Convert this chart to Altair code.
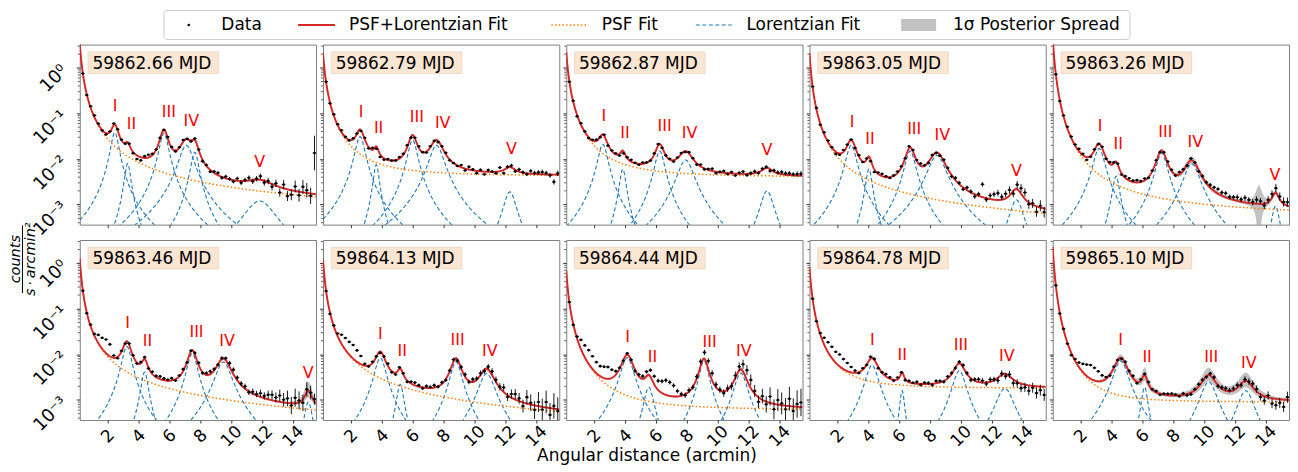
import numpy as np
import pandas as pd
import altair as alt

alt.data_transformers.disable_max_rows()

# ---------------- values ----------------
MJD_LABELS = ["59862.66 MJD", "59862.79 MJD", "59862.87 MJD", "59863.05 MJD", "59863.26 MJD",
              "59863.46 MJD", "59864.13 MJD", "59864.44 MJD", "59864.78 MJD", "59865.10 MJD"]

# PSF fit: a * r^-p + b / r + c
PSF_A = [0.09, 0.067, 0.07, 0.037, 0.06, 0.0247, 0.025, 0.017, 0.02, 0.025]
PSF_P = [2.25, 2.15, 2.15, 2.5, 2.7, 2.42, 2.4, 2.3, 2.3, 2.8]
PSF_B = [0.017, 0.0, 0.0, 0.0093, 0.005, 0.0088, 0.008, 0.0, 0.0, 0.0]
PSF_C = [0.0002, 0.0042, 0.0040, 0.0, 0.0004, 0.0, 0.0, 0.0006, 0.0018, 0.0009]

# Lorentzian components (centre, amplitude, half width, 1-sigma spread in dex)
COMP_CENTERS = [[2.47, 3.3, 5.65, 7.1, 7.65, 11.85],
                [2.6, 3.65, 6.0, 7.55, 12.3],
                [2.57, 3.86, 6.25, 7.93, 13.2],
                [2.9, 4.05, 6.72, 8.45, 13.6],
                [3.2, 4.3, 7.25, 9.2, 14.63],
                [3.25, 4.4, 7.48, 9.5, 15.0],
                [3.91, 5.2, 8.81, 10.8],
                [4.15, 5.55, 9.12, 11.5],
                [4.25, 6.2, 9.9, 12.85],
                [4.6, 6.15, 10.3, 12.7]]
COMP_AMPS = [[0.038, 0.008, 0.037, 0.02, 0.014, 0.0012],
             [0.031, 0.0075, 0.026, 0.02, 0.0019],
             [0.021, 0.006, 0.015, 0.0095, 0.002],
             [0.02, 0.006, 0.015, 0.012, 0.00127],
             [0.017, 0.0042, 0.0135, 0.0078, 0.00093],
             [0.015, 0.0041, 0.0105, 0.0068, 0.0009],
             [0.0084, 0.0022, 0.0069, 0.0038],
             [0.0085, 0.0019, 0.0072, 0.0039],
             [0.0058, 0.0016, 0.0044, 0.0018],
             [0.0072, 0.0019, 0.0025, 0.0016]]
COMP_WIDTHS = [[0.25, 0.19, 0.28, 0.45, 0.25, 1.0],
               [0.3, 0.18, 0.3, 0.45, 0.39],
               [0.3, 0.2, 0.3, 0.5, 0.4],
               [0.33, 0.2, 0.33, 0.55, 0.42],
               [0.35, 0.22, 0.35, 0.5, 0.25],
               [0.3, 0.22, 0.32, 0.5, 0.25],
               [0.35, 0.22, 0.35, 0.5],
               [0.4, 0.3, 0.3, 0.4],
               [0.4, 0.15, 0.4, 0.55],
               [0.45, 0.2, 0.5, 0.5]]
COMP_SPREADS = [[0.03, 0.03, 0.03, 0.03, 0.03, 0.05],
                [0.03, 0.03, 0.03, 0.03, 0.04],
                [0.03, 0.03, 0.03, 0.03, 0.04],
                [0.03, 0.04, 0.03, 0.03, 0.05],
                [0.03, 0.04, 0.03, 0.1, 0.06],
                [0.03, 0.04, 0.03, 0.04, 0.3],
                [0.04, 0.05, 0.04, 0.05],
                [0.04, 0.05, 0.04, 0.05],
                [0.04, 0.06, 0.04, 0.06],
                [0.08, 0.25, 0.2, 0.25]]

# extra posterior spike (only in the spread band)
SPIKE_PANEL = [4]
SPIKE_CENTER = [13.55]
SPIKE_WIDTH = [0.2]
SPIKE_AMP = [0.0016]

LABEL_TEXT = [["I", "II", "III", "IV", "V"]] * 6 + [["I", "II", "III", "IV"]] * 4
LABEL_X = [[2.48, 3.55, 5.97, 7.42, 11.85],
           [2.66, 3.8, 6.28, 7.95, 12.4],
           [2.64, 4.0, 6.57, 8.18, 13.2],
           [2.96, 4.12, 6.98, 8.8, 13.6],
           [3.26, 4.44, 7.49, 9.43, 14.59],
           [3.29, 4.58, 7.76, 9.74, 15.0],
           [3.91, 5.33, 8.92, 11.0],
           [4.17, 5.78, 9.48, 11.7],
           [4.27, 6.2, 10.0, 12.98],
           [4.59, 6.31, 10.46, 12.9]]

# data bins (arcmin) and residuals of the data from the fit (0.01 dex) and error bars (0.01 dex)
BIN_X = [round(0.4 + 0.25 * k, 2) for k in range(61)]

RESID = [
    [0, -2, 3, 4, 2, -1, -3, 1, 3, 2, 1, -2, 2, -3, -8, -7, 4, 6, 3, 0,
     2, -1, 3, 2, -2, 1, 4, 0, -2, 3, 1, -3, 2, -4, 3, 5, -2, 4, 1, -3,
     5, -4, 2, 6, -3, 2, 8, -4, 3, -6, 5, -12, 8, -15, -10, 10, -8, 12, 6, -5, 90],
    [1, -2, 3, 2, 4, 1, -1, 2, 0, -2, 3, -3, 4, -5, -6, -3, 2, 0, -1, 3,
     2, 4, -2, 1, 3, 0, -2, 2, 1, -3, 2, 3, -2, 0, -1, 5, -4, 6, 2, -5,
     3, -6, 4, 1, -3, 8, -7, 2, 4, -3, 5, 1, -2, 6, 2, 4, 5, 3, -2, -16, 3],
    [-1, 2, -3, 3, 1, -2, 2, 3, -1, 2, -3, 1, 2, -4, -5, 2, 4, 1, -2, 3,
     1, -1, 2, 3, -2, 0, 2, -3, 1, 2, -2, 3, 1, -3, 4, -2, 2, 5, -3, 1,
     4, -2, 3, -4, 2, 5, -3, 1, 4, -2, 3, 2, -4, 3, 2, 5, 3, 4, 2, 3, 4],
    [0, 3, -2, 4, 3, 1, -5, -3, 4, 2, 1, -2, 3, -1, 2, -4, -6, 3, 5, 2,
     -2, 1, 3, 2, -1, 4, 3, 2, 5, 1, -2, 3, -1, -2, 4, 2, -3, 5, 3, -4,
     6, 2, -5, 4, 28, -3, 8, 12, 15, 6, 10, 12, -6, 10, 12, 14, -4, 3, -12, 4, -8],
    [0, -3, 2, 4, 3, 2, 5, 3, -6, -2, 2, -1, 3, -2, 4, 2, 1, -3, 4, 5,
     3, 5, 2, 4, -2, 1, 3, -1, 2, 4, 3, -2, 5, 3, -2, 4, 1, -3, 3, 2,
     6, 8, 10, 7, 9, 4, 6, 8, 5, 10, 7, 3, 9, 6, -4, 5, 8, 10, 6, 4, 8],
    [0, -2, 3, 4, 18, 24, 30, 26, 5, -3, 2, -2, 3, 1, -2, 3, 4, -2, 5, 3,
     6, 4, 2, 5, -3, 2, 4, -2, 1, 3, 5, -2, 4, 6, 3, -1, 2, 4, 8, 10,
     6, 3, 5, -2, 4, 3, 8, 5, 10, 12, 8, 14, 6, 10, -5, 12, 4, -8, 6, 3, 5],
    [0, -3, 2, 6, 20, 26, 28, 30, 25, 18, 4, -2, 3, 1, -3, 2, 5, -2, -4, 3,
     2, -3, 4, 6, 3, -2, 4, 2, 5, -1, 3, -2, 2, 4, -3, 3, 5, -2, 6, 3,
     4, -3, 6, 8, 5, 2, 10, -4, 8, 12, 6, -8, 14, 4, -10, 9, -6, 12, -15, 6, -4],
    [0, -2, 4, 20, 26, 30, 28, 24, 22, 25, 26, 18, 8, 2, -2, 3, 1, -3, 4, 6,
     10, 14, 18, 20, 26, 32, 30, 24, 12, 4, -2, 3, -1, 4, 10, 14, 18, 16, 6, 2,
     -4, 3, -2, 5, 8, 16, 22, 18, 6, -10, 8, -6, 14, -12, 10, 4, -8, 16, -10, 6, 10],
    [0, -2, 3, 15, 22, 25, 24, 26, 22, 18, 12, 5, -2, 3, -1, 4, 2, -3, 1, 5,
     3, -2, 4, 2, -3, 3, 1, 4, -2, 3, 2, -3, 5, 3, -2, 4, 2, -1, 3, 5,
     2, -4, 3, 6, 4, -3, 5, 2, -6, 3, -5, 4, -8, -3, -10, -6, -12, -4, -15, -8, -18],
    [0, -3, 2, -2, -5, 4, 10, 18, 25, 30, 28, 22, 12, 4, -2, 3, 1, -2, 4, 2,
     5, -3, 3, 2, 4, 1, 3, -2, 2, 3, 4, 2, -2, 3, -3, -4, 2, 5, 3, -2,
     4, 6, -2, 3, 5, 2, 4, 6, -3, 3, 2, 8, 5, -6, -10, 4, -12, -14, -8, -16, 6],
]

ERR = [
    [1, 1, 1, 1, 1, 1, 1, 1, 2, 2, 2, 2, 2, 2, 2, 2, 2, 2, 2, 2,
     2, 2, 2, 2, 2, 2, 2, 2, 2, 3, 3, 3, 3, 3, 3, 3, 4, 4, 4, 4,
     4, 5, 5, 5, 6, 6, 6, 7, 7, 8, 8, 9, 10, 11, 12, 13, 14, 15, 16, 18, 38],
    [1, 1, 1, 1, 1, 1, 1, 1, 1, 1, 1, 1, 1, 1, 1, 2, 2, 2, 2, 2,
     2, 2, 2, 2, 2, 2, 2, 2, 2, 2, 2, 2, 2, 2, 2, 2, 3, 3, 3, 3,
     3, 3, 3, 3, 3, 3, 3, 4, 4, 4, 4, 4, 4, 4, 5, 5, 5, 5, 5, 6, 6],
    [1, 1, 1, 1, 1, 1, 1, 1, 1, 1, 1, 1, 1, 1, 1, 2, 2, 2, 2, 2,
     2, 2, 2, 2, 2, 2, 2, 2, 2, 2, 2, 2, 2, 2, 2, 2, 3, 3, 3, 3,
     3, 3, 3, 3, 3, 3, 3, 4, 4, 4, 4, 4, 4, 4, 5, 5, 5, 5, 5, 6, 6],
    [1, 1, 1, 1, 1, 1, 1, 1, 1, 1, 1, 1, 1, 2, 2, 2, 2, 2, 2, 2,
     2, 2, 2, 2, 2, 2, 2, 2, 3, 3, 3, 3, 3, 3, 3, 3, 4, 4, 4, 4,
     4, 5, 5, 5, 5, 6, 6, 6, 7, 7, 7, 8, 8, 8, 9, 9, 10, 10, 11, 12, 12],
    [1, 1, 1, 1, 1, 1, 1, 1, 1, 1, 1, 1, 2, 2, 2, 2, 2, 2, 2, 2,
     2, 2, 2, 2, 2, 2, 2, 2, 2, 2, 3, 3, 3, 3, 3, 3, 3, 3, 4, 4,
     4, 4, 4, 5, 5, 5, 5, 6, 6, 6, 6, 7, 7, 7, 8, 8, 8, 9, 9, 10, 10],
    [1, 1, 1, 1, 1, 1, 1, 2, 2, 2, 2, 2, 2, 2, 2, 3, 3, 3, 3, 3,
     3, 3, 3, 3, 3, 3, 3, 3, 3, 3, 4, 4, 4, 4, 4, 4, 4, 4, 5, 5,
     5, 6, 6, 6, 7, 7, 8, 8, 9, 10, 11, 13, 15, 17, 19, 20, 20, 18, 16, 15, 12],
    [1, 1, 1, 1, 2, 2, 2, 2, 2, 2, 2, 2, 2, 3, 3, 3, 3, 3, 3, 3,
     3, 3, 3, 3, 4, 4, 4, 4, 4, 4, 4, 4, 4, 4, 4, 5, 5, 5, 5, 5,
     6, 6, 6, 7, 7, 8, 8, 9, 10, 11, 12, 14, 16, 18, 20, 22, 24, 25, 26, 28, 30],
    [1, 1, 2, 2, 2, 2, 2, 2, 3, 3, 3, 3, 3, 3, 3, 3, 3, 4, 4, 4,
     4, 4, 4, 5, 5, 5, 5, 5, 5, 5, 6, 6, 6, 6, 6, 6, 6, 7, 7, 7,
     8, 8, 8, 9, 9, 10, 11, 12, 13, 14, 16, 18, 20, 22, 24, 24, 25, 26, 28, 30, 30],
    [1, 1, 1, 2, 2, 2, 2, 2, 2, 2, 2, 2, 2, 2, 3, 3, 3, 3, 3, 3,
     3, 3, 3, 3, 3, 3, 3, 3, 3, 3, 4, 4, 4, 4, 4, 4, 4, 4, 4, 5,
     5, 5, 5, 5, 6, 6, 6, 6, 7, 7, 7, 8, 8, 9, 9, 10, 10, 11, 12, 12, 13],
    [1, 1, 1, 1, 1, 2, 2, 2, 2, 2, 2, 2, 2, 2, 2, 3, 3, 3, 3, 3,
     3, 3, 3, 3, 3, 3, 3, 3, 3, 3, 3, 3, 3, 4, 4, 4, 4, 4, 4, 4,
     4, 5, 5, 5, 5, 5, 6, 6, 6, 7, 7, 7, 8, 8, 9, 9, 10, 10, 11, 11, 12],
]

X_TICKS = [2, 4, 6, 8, 10, 12, 14]
Y_TICKS = [0.001, 0.01, 0.1, 1.0]
Y_MINOR = [m * 10.0 ** e for e in (-4, -3, -2, -1, 0) for m in range(2, 10)]

for arr in RESID + ERR:
    assert len(arr) == len(BIN_X), len(arr)

# ---------------- styles ----------------
RED = "#d62728"
ORANGE = "#ff7f0e"
BLUE = "#1f77b4"
BAND = "#9a9a9a"
BOX_FILL = "#fbe5d3"
BOX_EDGE = "#ead5c0"
X_MIN, X_MAX = 0.2, 15.5
Y_MIN, Y_MAX = 10 ** -3.44, 10 ** 0.51
PW, PH = 237, 180.6
OX, OY = 79.0, 42.7          # page position of the first panel's plot area


def px(v):
    return v - OX


def py(v):
    return v - OY


def sig(a, n=4):
    return np.array([float(f"{v:.{n}g}") for v in np.asarray(a, float)])


# ---------------- build tables ----------------
XG = np.round(np.arange(X_MIN, X_MAX + 1e-9, 0.025), 4)


def psf(i, x):
    return PSF_A[i] * x ** (-PSF_P[i]) + PSF_B[i] / x + PSF_C[i]


def lor(c, a, w, x):
    return a / (1.0 + ((x - c) / w) ** 2)


def model(i, x):
    x = np.asarray(x, float)
    y = psf(i, x)
    for c, a, w in zip(COMP_CENTERS[i], COMP_AMPS[i], COMP_WIDTHS[i]):
        y = y + lor(c, a, w, x)
    return y


curve_parts, comp_parts, pt_parts, lab_rows = [], [], [], []
for i in range(10):
    ps = psf(i, XG)
    fit = model(i, XG)
    lo = ps * 10 ** -0.01
    hi = ps * 10 ** 0.01
    for k, (c, a, w, s) in enumerate(zip(COMP_CENTERS[i], COMP_AMPS[i], COMP_WIDTHS[i], COMP_SPREADS[i])):
        L = lor(c, a, w, XG)
        lo = lo + L * 10 ** (-s)
        hi = hi + L * 10 ** s
        keep = L >= 1.5e-4
        comp_parts.append(pd.DataFrame({"panel": i, "comp": k, "x": XG[keep], "y": sig(L[keep])}))
    for p, sc, sw, sa in zip(SPIKE_PANEL, SPIKE_CENTER, SPIKE_WIDTH, SPIKE_AMP):
        if p == i:
            g = 1.0 / (1.0 + ((XG - sc) / sw) ** 2)
            hi = hi + sa * g
            lo = lo * (1 - 0.97 * g)
    curve_parts.append(pd.DataFrame({"panel": i, "x": XG, "fit": sig(fit), "psf": sig(ps),
                                     "lo": sig(lo), "hi": sig(hi)}))
    bx = np.array(BIN_X)
    yd = model(i, bx) * 10 ** (np.array(RESID[i]) / 100.0)
    e = 10 ** (np.array(ERR[i]) / 100.0)
    pt_parts.append(pd.DataFrame({"panel": i, "x": bx, "y": sig(yd), "ylo": sig(yd / e),
                                  "yhi": sig(yd * e), "xlo": bx - 0.12, "xhi": bx + 0.12}))
    for t, lx in zip(LABEL_TEXT[i], LABEL_X[i]):
        near = XG[np.abs(XG - lx) <= 0.3]
        lab_rows.append({"panel": i, "x": lx, "y": float(model(i, near).max()), "t": t})

CURVES = pd.concat(curve_parts, ignore_index=True)
COMPS = pd.concat(comp_parts, ignore_index=True)
PTS = pd.concat(pt_parts, ignore_index=True)
LABS = pd.DataFrame(lab_rows)
MINOR_DF = pd.DataFrame({"v": [v for v in Y_MINOR if Y_MIN < v < Y_MAX]})
ONE = pd.DataFrame({"k": [0]})

XS = alt.Scale(domain=[X_MIN, X_MAX], nice=False, zero=False)
YS = alt.Scale(type="log", domain=[Y_MIN, Y_MAX], nice=False)
Y_LABEL_EXPR = ("datum.value > 0.5 ? '10\u2070' : datum.value > 0.05 ? '10\u207b\u00b9' : "
                "datum.value > 0.005 ? '10\u207b\u00b2' : '10\u207b\u00b3'")


def const_text(text, x, y, **kw):
    return alt.Chart(ONE).mark_text(text=text, **kw).encode(x=alt.value(x), y=alt.value(y))


def panel_chart(i):
    r, c = divmod(i, 5)
    xa = alt.Axis(values=X_TICKS, grid=False, domain=False, tickSize=3, tickColor="#333333",
                  labels=(r == 1), labelAngle=-45, labelAlign="center", labelBaseline="middle",
                  labelPadding=13, labelFontSize=17, labelColor="black", labelFlush=False,
                  labelOverlap=False, title=None)
    ya = alt.Axis(values=Y_TICKS, grid=False, domain=False, tickSize=3.5, tickColor="#333333",
                  labels=(c == 0), labelAngle=-45, labelAlign="right", labelBaseline="middle",
                  labelPadding=12, labelFontSize=18, labelColor="black", labelFlush=False,
                  labelOverlap=False, labelExpr=Y_LABEL_EXPR, title=None)

    def X(f):
        return alt.X(f, type="quantitative", scale=XS, axis=xa)

    def Y(f):
        return alt.Y(f, type="quantitative", scale=YS, axis=ya)

    cur = CURVES[CURVES.panel == i]
    pts = PTS[PTS.panel == i]
    layers = [
        alt.Chart(cur).mark_area(color=BAND, opacity=0.6, clip=True).encode(
            x=X("x"), y=Y("lo"), y2=alt.Y2("hi")),
        alt.Chart(COMPS[COMPS.panel == i]).mark_line(color=BLUE, strokeWidth=1.1, strokeDash=[4, 2.5],
                                                     clip=True).encode(
            x=X("x"), y=Y("y"), detail="comp:N"),
        alt.Chart(cur).mark_line(color=ORANGE, strokeWidth=1.5, strokeDash=[1.5, 2.2], clip=True).encode(
            x=X("x"), y=Y("psf")),
        alt.Chart(cur).mark_line(color=RED, strokeWidth=1.9, clip=True).encode(x=X("x"), y=Y("fit")),
        alt.Chart(pts).mark_rule(color="black", strokeWidth=0.9, clip=True).encode(
            x=X("x"), y=Y("ylo"), y2=alt.Y2("yhi")),
        alt.Chart(pts).mark_rule(color="black", strokeWidth=0.9, clip=True).encode(
            x=X("xlo"), x2=alt.X2("xhi"), y=Y("y")),
        alt.Chart(pts).mark_circle(color="black", size=7, opacity=1, clip=True).encode(x=X("x"), y=Y("y")),
        alt.Chart(LABS[LABS.panel == i]).mark_text(color="red", fontSize=16, dy=-18, baseline="middle",
                                                   align="center").encode(x=X("x"), y=Y("y"), text="t:N"),
        alt.Chart(MINOR_DF).mark_rule(color="#333333", strokeWidth=0.8).encode(
            y=Y("v"), x=alt.value(-2), x2=alt.value(0)),
        alt.Chart(ONE).mark_rect(fill=BOX_FILL, stroke=BOX_EDGE, strokeWidth=0.8).encode(
            x=alt.value(8.3), x2=alt.value(139.3), y=alt.value(7.3), y2=alt.value(29)),
        const_text(MJD_LABELS[i], 12.7, 24, align="left", baseline="alphabetic", fontSize=17, color="black"),
    ]

    if i == 0:
        ly = py(23)
        layers += [
            # invisible anchor fixing the top-left corner of the page
            alt.Chart(ONE).mark_rule(strokeOpacity=0, strokeWidth=0.1).encode(
                x=alt.value(px(8)), x2=alt.value(px(8.4)), y=alt.value(py(8)), y2=alt.value(py(8.4))),
            # legend
            alt.Chart(ONE).mark_rect(fill="white", stroke="#cccccc", strokeWidth=1, cornerRadius=3).encode(
                x=alt.value(px(163.5)), x2=alt.value(px(1132.5)), y=alt.value(py(8.5)), y2=alt.value(py(37.5))),
            alt.Chart(ONE).mark_circle(color="black", size=7, opacity=1).encode(
                x=alt.value(px(188.3)), y=alt.value(ly)),
            alt.Chart(ONE).mark_rule(color=RED, strokeWidth=2).encode(
                x=alt.value(px(298)), x2=alt.value(px(335)), y=alt.value(ly)),
            alt.Chart(ONE).mark_rule(color=ORANGE, strokeWidth=1.5, strokeDash=[1.5, 2.2]).encode(
                x=alt.value(px(552)), x2=alt.value(px(588)), y=alt.value(ly)),
            alt.Chart(ONE).mark_rule(color=BLUE, strokeWidth=1.1, strokeDash=[4, 2.5]).encode(
                x=alt.value(px(697)), x2=alt.value(px(733)), y=alt.value(ly)),
            alt.Chart(ONE).mark_rect(color=BAND, opacity=0.6).encode(
                x=alt.value(px(903)), x2=alt.value(px(938)), y=alt.value(py(17)), y2=alt.value(py(29))),
            const_text("Data", px(221), ly, align="left", baseline="middle", fontSize=17, color="black"),
            const_text("PSF+Lorentzian Fit", px(349), ly, align="left", baseline="middle", fontSize=17,
                       color="black"),
            const_text("PSF Fit", px(602.7), ly, align="left", baseline="middle", fontSize=17, color="black"),
            const_text("Lorentzian Fit", px(747.7), ly, align="left", baseline="middle", fontSize=17,
                       color="black"),
            const_text("1\u03c3 Posterior Spread", px(955), ly, align="left", baseline="middle", fontSize=17,
                       color="black"),
            # y-axis title as a fraction
            const_text("counts", px(19.5), py(258), angle=270, align="center", baseline="alphabetic",
                       fontSize=14.5, fontStyle="italic", color="black"),
            alt.Chart(ONE).mark_rule(color="black", strokeWidth=1).encode(
                x=alt.value(px(21.5)), y=alt.value(py(224)), y2=alt.value(py(292))),
            const_text("s\u2009\u00b7\u2009arcmin\u00b2", px(23), py(258), angle=270, align="center",
                       baseline="top", fontSize=14.5, fontStyle="italic", color="black"),
        ]
    if i == 7:
        layers.append(const_text("Angular distance (arcmin)", 648 - (OX + 2 * 244), 460 - 238.3,
                                 align="center", baseline="alphabetic", fontSize=17, color="black"))

    return alt.layer(*layers).properties(width=PW, height=PH)


chart = alt.concat(*[panel_chart(i) for i in range(10)], columns=5,
                   spacing={"row": 15, "column": 7}, bounds="flush").properties(padding=0)
chart = chart.configure(font="DejaVu Sans").configure_view(stroke="#808080", strokeWidth=1)

chart.save("out.html", embed_options={"renderer": "svg", "actions": False})
